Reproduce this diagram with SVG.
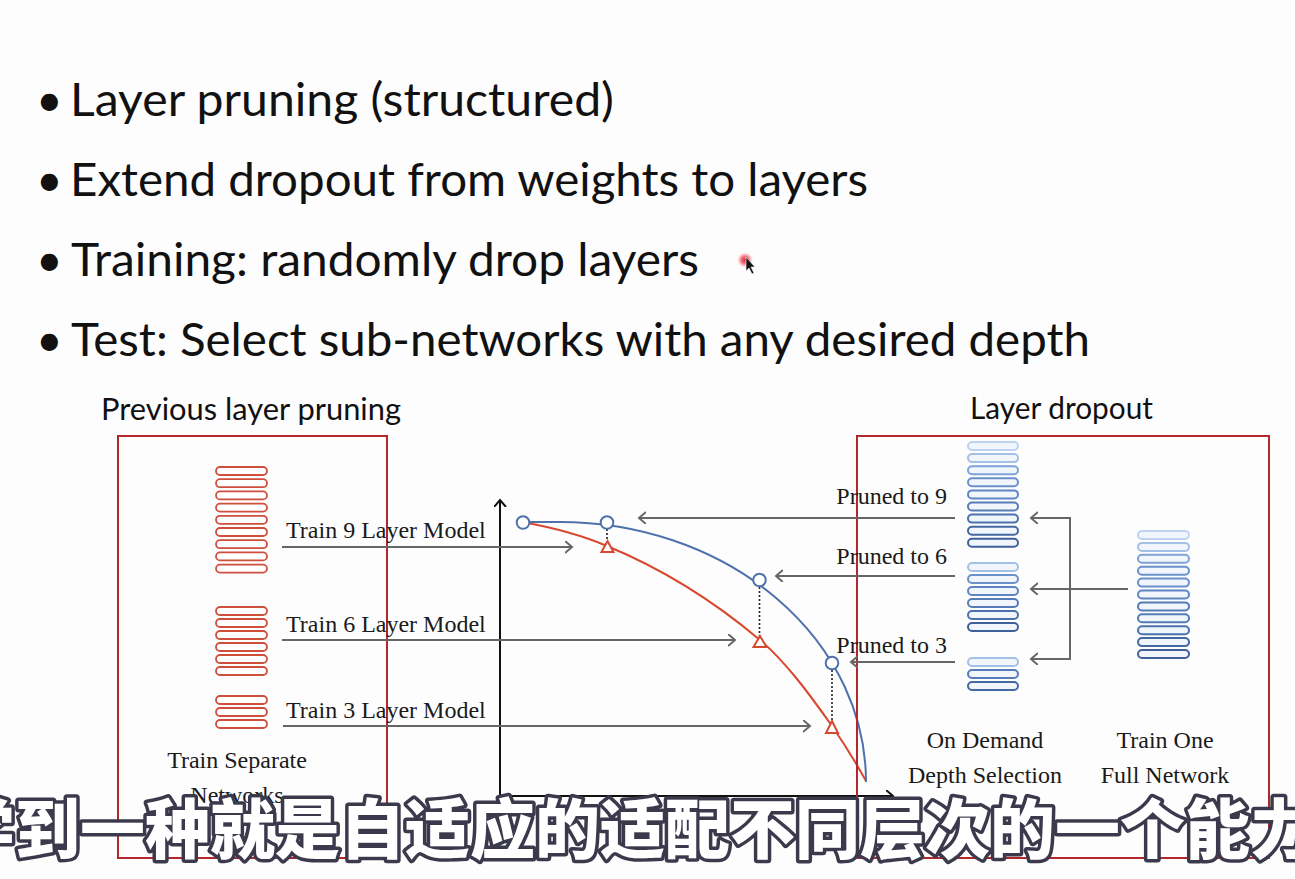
<svg xmlns="http://www.w3.org/2000/svg" width="1295" height="879" viewBox="0 0 1295 879">
<defs>
<style>
.bul{font-family:Lato,"Open Sans",sans-serif;font-size:46px;fill:#111;}
.ttl{font-family:Lato,"Open Sans",sans-serif;font-size:31px;fill:#111;}
.lbl{font-family:"Liberation Serif","Times New Roman",serif;font-size:24px;fill:#1a1a1a;}
.box{fill:none;stroke:#b3262b;stroke-width:2;}
.rl{fill:#fff;stroke:#cf4e3c;stroke-width:1.8;}
.bl{fill:#f1f6fc;stroke-width:2;}
.b0{stroke:#bdd3f1;}.b1{stroke:#a3c0e7;}.b2{stroke:#7fa3d8;}.b3{stroke:#6a91cc;}.b4{stroke:#5f86c2;}
.b5{stroke:#557cb8;}.b6{stroke:#4b72ad;}.b7{stroke:#4468a2;}.b8{stroke:#3f6098;}
.conn{fill:none;stroke:#666;stroke-width:2;}
.axis{fill:none;stroke:#111;stroke-width:2;}
.dot{fill:none;stroke:#222;stroke-width:1.6;stroke-dasharray:2 2;}
.cb{fill:#fff;stroke:#4f72ad;stroke-width:2;}
.tr{fill:#fff;stroke:#d9472f;stroke-width:2;}
.sub{font-family:"Noto Sans CJK SC",sans-serif;font-weight:900;font-size:65px;fill:#fff;stroke:#3a3a4c;stroke-width:7;paint-order:stroke fill;stroke-linejoin:round;}
</style>
<marker id="ag" markerUnits="userSpaceOnUse" markerWidth="14" markerHeight="14" refX="7" refY="6" orient="auto">
<path d="M0,0 L7,6 L0,12" fill="none" stroke="#666" stroke-width="2"/>
</marker>
<marker id="ak" markerUnits="userSpaceOnUse" markerWidth="14" markerHeight="14" refX="7" refY="6" orient="auto">
<path d="M0,0 L7,6 L0,12" fill="none" stroke="#111" stroke-width="2"/>
</marker>
<radialGradient id="glow">
<stop offset="0" stop-color="#e0202a"/>
<stop offset="0.5" stop-color="#ee4050" stop-opacity="0.7"/>
<stop offset="1" stop-color="#f7a0a8" stop-opacity="0"/>
</radialGradient>
</defs>
<rect width="1295" height="879" fill="#fdfdfd"/>

<g id="bullets">
<text class="bul" x="36" y="116">•</text>
<text class="bul" x="70" y="116" textLength="544" lengthAdjust="spacingAndGlyphs">Layer pruning (structured)</text>
<text class="bul" x="36" y="196">•</text>
<text class="bul" x="70" y="196" textLength="798" lengthAdjust="spacingAndGlyphs">Extend dropout from weights to layers</text>
<text class="bul" x="36" y="276">•</text>
<text class="bul" x="71" y="276" textLength="628" lengthAdjust="spacingAndGlyphs">Training: randomly drop layers</text>
<text class="bul" x="36" y="356">•</text>
<text class="bul" x="71" y="356" textLength="1019" lengthAdjust="spacingAndGlyphs">Test: Select sub-networks with any desired depth</text>
</g>

<g id="pointer">
<circle cx="745" cy="260" r="8" fill="url(#glow)"/>
<path d="M746,257 L746,271 L749,268 L752,274 L754,273 L751,267 L755,267 Z" fill="#111" stroke="#fff" stroke-width="0.6"/>
</g>

<g id="left-panel">
<text class="ttl" x="101" y="420" textLength="300" lengthAdjust="spacingAndGlyphs">Previous layer pruning</text>
<rect class="box" x="118" y="436" width="269" height="422"/>
</g>

<g id="stack-9">
<rect class="rl" x="216" y="467" width="51" height="8" rx="4"/>
<rect class="rl" x="216" y="479.2" width="51" height="8" rx="4"/>
<rect class="rl" x="216" y="491.4" width="51" height="8" rx="4"/>
<rect class="rl" x="216" y="503.6" width="51" height="8" rx="4"/>
<rect class="rl" x="216" y="515.8" width="51" height="8" rx="4"/>
<rect class="rl" x="216" y="528" width="51" height="8" rx="4"/>
<rect class="rl" x="216" y="540.2" width="51" height="8" rx="4"/>
<rect class="rl" x="216" y="552.4" width="51" height="8" rx="4"/>
<rect class="rl" x="216" y="564.6" width="51" height="8" rx="4"/>
<text class="lbl" x="286" y="538">Train 9 Layer Model</text>
</g>
<g id="stack-6">
<rect class="rl" x="216" y="607" width="51" height="8" rx="4"/>
<rect class="rl" x="216" y="619" width="51" height="8" rx="4"/>
<rect class="rl" x="216" y="631" width="51" height="8" rx="4"/>
<rect class="rl" x="216" y="643" width="51" height="8" rx="4"/>
<rect class="rl" x="216" y="655" width="51" height="8" rx="4"/>
<rect class="rl" x="216" y="667" width="51" height="8" rx="4"/>
<text class="lbl" x="286" y="632">Train 6 Layer Model</text>
</g>
<g id="stack-3">
<rect class="rl" x="216" y="696" width="51" height="8" rx="4"/>
<rect class="rl" x="216" y="708" width="51" height="8" rx="4"/>
<rect class="rl" x="216" y="720" width="51" height="8" rx="4"/>
<text class="lbl" x="286" y="718">Train 3 Layer Model</text>
</g>
<g id="left-caption">
<text class="lbl" x="237" y="768" text-anchor="middle">Train Separate</text>
<text class="lbl" x="237" y="803" text-anchor="middle">Networks</text>
</g>

<g id="chart">
<path class="axis" d="M500,796 L500,500" marker-end="url(#ak)"/>
<path class="axis" d="M500,796 L893,796" marker-end="url(#ak)"/>
<path fill="none" stroke="#d9472f" stroke-width="2" d="M522,522 C550,527 579,534 607,546 C658,567 709,597 760,640 C784,660 808,692 832,726 C843,742 855,761 866,781"/>
<path fill="none" stroke="#4f72ad" stroke-width="2" d="M522,522 L560,522 A306,260 0 0 1 866,782"/>
<line class="dot" x1="607" y1="529" x2="607" y2="541"/>
<line class="dot" x1="759.5" y1="587" x2="759.5" y2="636"/>
<line class="dot" x1="832" y1="670" x2="832" y2="721"/>
<circle class="cb" cx="523" cy="522.5" r="6.3"/>
<circle class="cb" cx="607" cy="522.5" r="6.3"/>
<circle class="cb" cx="759.5" cy="580" r="6.3"/>
<circle class="cb" cx="832" cy="663" r="6.3"/>
<path class="tr" d="M607.5,541 L613.5,552 L601.5,552 Z"/>
<path class="tr" d="M760,636 L766.5,647 L753.5,647 Z"/>
<path class="tr" d="M832,721 L838,733 L826,733 Z"/>
</g>

<g id="right-panel">
<text class="ttl" x="970" y="419" textLength="183" lengthAdjust="spacingAndGlyphs">Layer dropout</text>
<rect class="box" x="857" y="436" width="412" height="422"/>
</g>

<g id="depth-9">
<rect class="bl b0" x="968" y="442" width="50" height="8" rx="4"/>
<rect class="bl b1" x="968" y="454.1" width="50" height="8" rx="4"/>
<rect class="bl b2" x="968" y="466.2" width="50" height="8" rx="4"/>
<rect class="bl b3" x="968" y="478.3" width="50" height="8" rx="4"/>
<rect class="bl b4" x="968" y="490.4" width="50" height="8" rx="4"/>
<rect class="bl b5" x="968" y="502.5" width="50" height="8" rx="4"/>
<rect class="bl b6" x="968" y="514.6" width="50" height="8" rx="4"/>
<rect class="bl b7" x="968" y="526.7" width="50" height="8" rx="4"/>
<rect class="bl b8" x="968" y="538.8" width="50" height="8" rx="4"/>
<text class="lbl" x="947" y="504" text-anchor="end">Pruned to 9</text>
</g>
<g id="depth-6">
<rect class="bl b1" x="968" y="563" width="50" height="8" rx="4"/>
<rect class="bl b3" x="968" y="575" width="50" height="8" rx="4"/>
<rect class="bl b4" x="968" y="587" width="50" height="8" rx="4"/>
<rect class="bl b5" x="968" y="599" width="50" height="8" rx="4"/>
<rect class="bl b6" x="968" y="611" width="50" height="8" rx="4"/>
<rect class="bl b8" x="968" y="623" width="50" height="8" rx="4"/>
<text class="lbl" x="947" y="564" text-anchor="end">Pruned to 6</text>
</g>
<g id="depth-3">
<rect class="bl b1" x="968" y="658" width="50" height="8" rx="4"/>
<rect class="bl b5" x="968" y="670" width="50" height="8" rx="4"/>
<rect class="bl b7" x="968" y="682" width="50" height="8" rx="4"/>
<text class="lbl" x="947" y="653" text-anchor="end">Pruned to 3</text>
</g>
<g id="full-network">
<rect class="bl b0" x="1138" y="531" width="51" height="8" rx="4"/>
<rect class="bl b1" x="1138" y="542.9" width="51" height="8" rx="4"/>
<rect class="bl b2" x="1138" y="554.8" width="51" height="8" rx="4"/>
<rect class="bl b3" x="1138" y="566.7" width="51" height="8" rx="4"/>
<rect class="bl b3" x="1138" y="578.6" width="51" height="8" rx="4"/>
<rect class="bl b4" x="1138" y="590.5" width="51" height="8" rx="4"/>
<rect class="bl b5" x="1138" y="602.4" width="51" height="8" rx="4"/>
<rect class="bl b5" x="1138" y="614.3" width="51" height="8" rx="4"/>
<rect class="bl b6" x="1138" y="626.2" width="51" height="8" rx="4"/>
<rect class="bl b7" x="1138" y="638.1" width="51" height="8" rx="4"/>
<rect class="bl b8" x="1138" y="650" width="51" height="8" rx="4"/>
</g>
<g id="right-captions">
<text class="lbl" x="985" y="748" text-anchor="middle">On Demand</text>
<text class="lbl" x="985" y="783" text-anchor="middle">Depth Selection</text>
<text class="lbl" x="1165" y="748" text-anchor="middle">Train One</text>
<text class="lbl" x="1165" y="783" text-anchor="middle">Full Network</text>
</g>

<g id="connectors">
<path class="conn" d="M282,547 L572,547" marker-end="url(#ag)"/>
<path class="conn" d="M282,640 L735,640" marker-end="url(#ag)"/>
<path class="conn" d="M283,726 L810,726" marker-end="url(#ag)"/>
<path class="conn" d="M955,518 L639,518" marker-end="url(#ag)"/>
<path class="conn" d="M955,576 L776,576" marker-end="url(#ag)"/>
<path class="conn" d="M955,662 L851,662" marker-end="url(#ag)"/>
<path class="conn" d="M1128,589 L1031,589" marker-end="url(#ag)"/>
<path class="conn" d="M1070,518 L1070,659"/>
<path class="conn" d="M1071,518 L1031,518" marker-end="url(#ag)"/>
<path class="conn" d="M1071,659 L1031,659" marker-end="url(#ag)"/>
</g>

<g id="subtitle">
<text class="sub" x="-50" y="853">学到一种就是自适应的适配不同层次的一个能力</text>
</g>
</svg>
